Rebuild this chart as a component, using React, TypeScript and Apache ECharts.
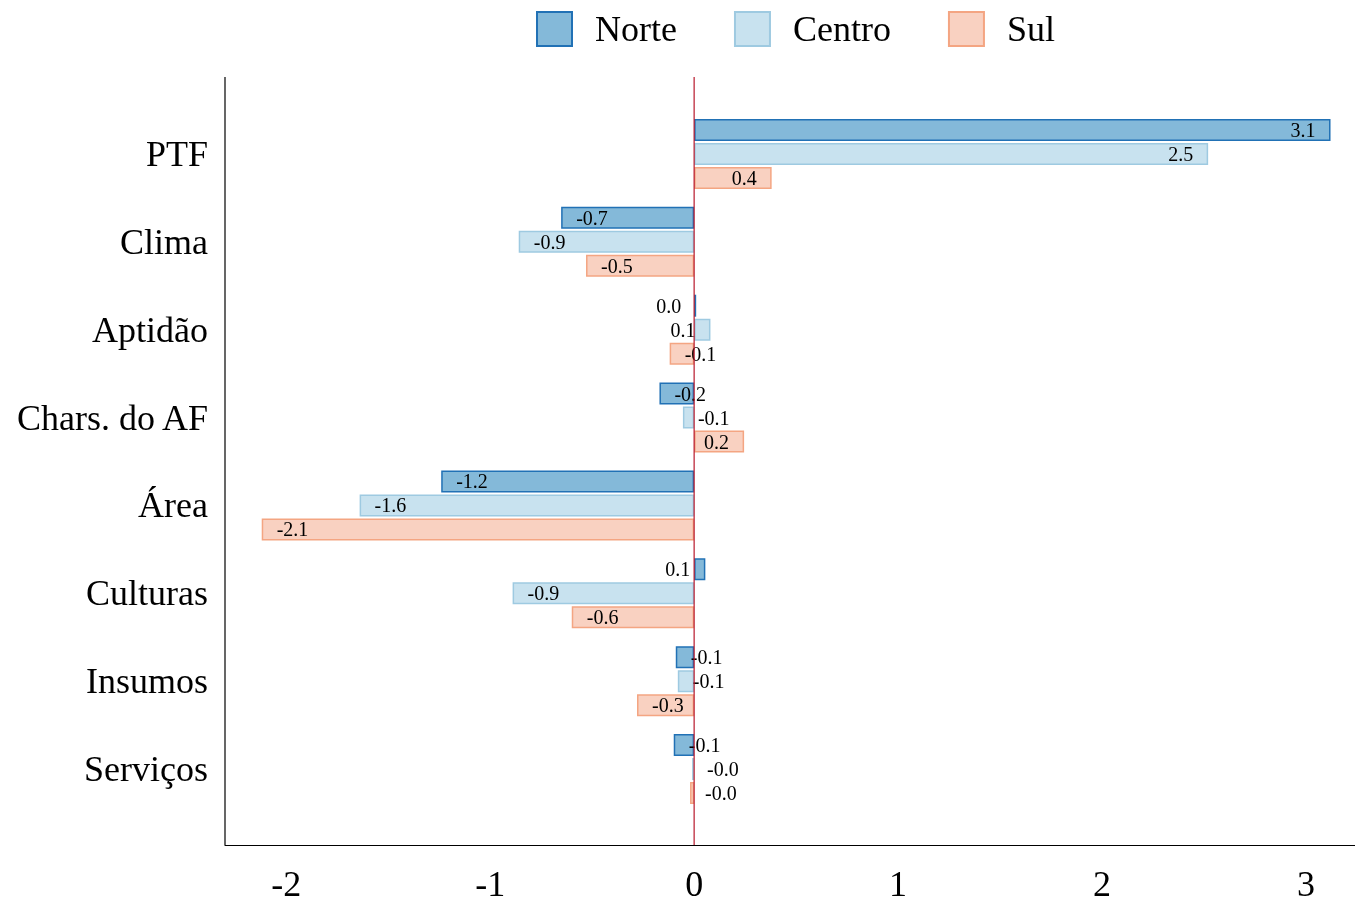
import React, { useEffect, useRef } from "react";
import * as echarts from "echarts";

const categories = ["PTF", "Clima", "Aptidão", "Chars. do AF", "Área", "Culturas", "Insumos", "Serviços"];
const norte = [3.12, -0.652, 0.01, -0.17, -1.24, 0.055, -0.09, -0.1];
const centro = [2.52, -0.86, 0.08, -0.055, -1.64, -0.89, -0.08, -0.01];
const sul = [0.38, -0.53, -0.12, 0.245, -2.12, -0.6, -0.28, -0.02];
const xTicks = [-2, -1, 0, 1, 2, 3];
const seriesNames = ["Norte", "Centro", "Sul"];

const FONT = "'Liberation Serif', 'DejaVu Serif', serif";

const styles = [
  { fill: "#84b9d9", border: "#2171b5" },
  { fill: "#c8e2ef", border: "#9ecae1" },
  { fill: "#f9d1c1", border: "#f4a582" },
];

export default function App() {
  const ref = useRef<HTMLDivElement>(null);
  useEffect(() => {
    if (!ref.current) return;
    const chart = echarts.init(ref.current, undefined, { renderer: "svg" });
    const all = [norte, centro, sul];
    const series = all.map((vals, i) => ({
      name: seriesNames[i],
      type: "bar",
      barWidth: 22,
      barGap: "9%",
      itemStyle: { color: styles[i].fill, borderColor: styles[i].border, borderWidth: 1.5 },
      label: {
        show: true,
        distance: 15,
        color: "#000",
        fontFamily: FONT,
        fontSize: 20,
        formatter: (p: any) => Number(p.value).toFixed(1),
      },
      data: vals.map((v) => ({
        value: v,
        label: { position: v >= 0 ? "insideRight" : "insideLeft" },
      })),
    }));
    const gridTop = 110;
    const gridBottom = 91;
    chart.setOption({
      animation: false,
      legend: {
        top: 4,
        left: 531,
        icon: "rect",
        itemWidth: 35,
        itemHeight: 34,
        itemGap: 57,
        textStyle: {
          fontFamily: FONT,
          fontSize: 36,
          lineHeight: 40,
          color: "#000",
          padding: [0, 0, 0, 18],
        },
        data: seriesNames,
      },
      grid: { left: 225, right: 0, top: gridTop, bottom: gridBottom },
      xAxis: {
        type: "value",
        min: -2.3,
        max: 3.24,
        offset: 32,
        axisLine: { show: true, lineStyle: { color: "#000", width: 1.2 } },
        axisTick: { show: false },
        splitLine: { show: false },
        axisLabel: {
          customValues: xTicks,
          color: "#000",
          fontFamily: FONT,
          fontSize: 36,
          lineHeight: 30,
          margin: 24,
          formatter: (v: number) => String(v),
        },
      },
      yAxis: {
        type: "category",
        inverse: true,
        data: categories,
        axisLine: { show: false },
        axisTick: { show: false },
        splitLine: { show: false },
        axisLabel: { color: "#000", fontFamily: FONT, fontSize: 36, margin: 17 },
      },
      series,
    });
    const x0 = chart.convertToPixel({ xAxisIndex: 0 }, 0) as number;
    const top = 77;
    const bottom = 845;
    chart.setOption({
      graphic: [
        {
          type: "line",
          z: 100,
          shape: { x1: 225, y1: top, x2: 225, y2: bottom },
          style: { stroke: "#000", lineWidth: 1.2 },
        },
        {
          type: "line",
          z: 100,
          shape: { x1: x0, y1: top, x2: x0, y2: bottom },
          style: { stroke: "#b8182b", lineWidth: 1.2 },
        },
      ],
    });
    return () => chart.dispose();
  }, []);
  return (
    <div
      ref={ref}
      style={{ position: "fixed", left: 0, top: 0, width: 1355, height: 904 }}
    />
  );
}
